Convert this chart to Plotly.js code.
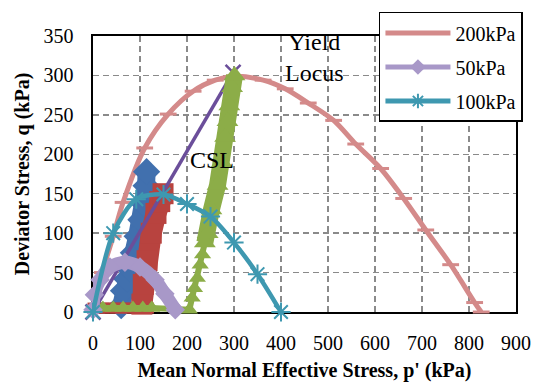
<!DOCTYPE html>
<html><head><meta charset="utf-8">
<script src="https://cdn.plot.ly/plotly-3.0.1.min.js"></script>
<style>html,body{margin:0;padding:0;background:#fff}</style>
</head><body>
<div id="chart" style="width:544px;height:383px"></div>
<script>
// ---- data (p' kPa, q kPa) ----
const p200 = [8, 20, 43, 64, 110, 160, 213, 260, 303, 362, 409, 458, 512, 559, 612, 661, 708, 761, 812, 826];
const q200 = [0, 50, 96, 139, 208, 251, 280, 294, 299, 294, 283, 265, 243, 213, 182, 144, 104, 60, 12, 0];

const p50 = [0, 3, 15, 36, 68, 100, 132, 153, 175];
const q50 = [3, 22, 41, 57, 63, 57, 41, 23, 3];

const p100 = [0, 43, 92, 150, 200, 250, 300, 350, 400];
const q100 = [0, 100, 143, 149, 137, 121, 88, 48, 0];

const pBlue = [60, 65, 72, 78, 86, 94, 102, 109, 113, 114];
const qBlue = [8, 27, 42, 55, 75, 96, 117, 137, 160, 178];

const pRedBase = [0, 12, 24, 36, 48, 60, 72, 84, 96, 108, 118];
const qRedBase = [5, 5, 5, 5, 5, 5, 5, 5, 5, 5, 5];
const pRedUp = [104, 107, 115, 124, 134, 142, 149];
const qRedUp = [10, 35, 65, 100, 125, 140, 150];

const pGreenBase = [0, 21, 43, 64, 85, 106, 125, 205, 211, 216, 222, 228, 233, 238];
const qGreenBase = [5, 5, 5, 5, 5, 5, 5, 3, 18, 30, 43, 60, 73, 88];
const pGreenBand = [238, 244, 252, 265, 274, 281, 286, 290, 296, 301];
const qGreenBand = [88, 100, 130, 161, 190, 222, 242, 262, 285, 300];

const pCSL = [0, 298];
const qCSL = [0, 304];

const xTicks = [0, 100, 200, 300, 400, 500, 600, 700, 800, 900];
const yTicks = [0, 50, 100, 150, 200, 250, 300, 350];

// ---- styling ----
const FONT = 'Liberation Serif';
const C = {
  pink: '#D48A8A', lav: '#A898C8', teal: '#3E98B0', blue: '#4170AE',
  red: '#B8433F', green: '#8CAD48', purple: '#6B4E9A'
};

const traces = [
  {x: p200, y: q200, name: '200kPa', legendgroup: 'a', mode: 'lines+markers',
   line: {color: C.pink, width: 5, shape: 'spline', smoothing: 0.8},
   marker: {symbol: 'line-ew', size: 12, color: C.pink, line: {color: C.pink, width: 3}},
   cliponaxis: false},
  {x: pBlue, y: qBlue, showlegend: false, mode: 'lines+markers',
   line: {color: C.blue, width: 18}, marker: {symbol: 'diamond', size: 21, color: C.blue},
   cliponaxis: false},
  {x: pRedBase, y: qRedBase, showlegend: false, mode: 'lines+markers',
   line: {color: C.red, width: 10}, marker: {symbol: 'square', size: 11, color: C.red},
   cliponaxis: false},
  {x: pRedUp, y: qRedUp, showlegend: false, mode: 'lines+markers',
   line: {color: C.red, width: 21}, marker: {symbol: 'square', size: 21, color: C.red},
   cliponaxis: false},
  {x: pCSL, y: qCSL, showlegend: false, mode: 'lines+markers',
   line: {color: C.purple, width: 3.5},
   marker: {symbol: 'x-thin-open', size: 15, color: C.purple, line: {color: C.purple, width: 2.5}},
   cliponaxis: false},
  {x: pGreenBase, y: qGreenBase, showlegend: false, mode: 'lines+markers',
   line: {color: C.green, width: 6}, marker: {symbol: 'triangle-up', size: 15, color: C.green},
   cliponaxis: false},
  {x: pGreenBand, y: qGreenBand, showlegend: false, mode: 'lines+markers',
   line: {color: C.green, width: 17}, marker: {symbol: 'triangle-up', size: 19, color: C.green},
   cliponaxis: false},
  {x: p50, y: q50, name: '50kPa', legendgroup: 'b', mode: 'lines+markers',
   line: {color: C.lav, width: 13, shape: 'spline', smoothing: 0.8},
   marker: {symbol: 'diamond', size: 15, color: C.lav},
   cliponaxis: false},
  {x: p100, y: q100, name: '100kPa', legendgroup: 'c', mode: 'lines+markers',
   line: {color: C.teal, width: 4.5, shape: 'spline', smoothing: 0.8},
   marker: {symbol: 'asterisk-open', size: 16, color: C.teal, line: {color: C.teal, width: 2}},
   cliponaxis: false}
];

const axisBase = {
  showgrid: true, gridcolor: '#8a8a8a', gridwidth: 1.4, griddash: '6px,4px',
  showline: true, linecolor: '#000', linewidth: 1.6, mirror: true,
  zeroline: false, ticks: '', layer: 'below traces', automargin: false,
  tickfont: {family: FONT, size: 20, color: '#000'}, fixedrange: true
};

const layout = {
  width: 544, height: 383,
  margin: {l: 93, r: 28, t: 25, b: 71, pad: 0},
  paper_bgcolor: '#fff', plot_bgcolor: '#fff',
  font: {family: FONT, color: '#000'},
  showlegend: true,
  xaxis: Object.assign({}, axisBase, {
    range: [0, 900], tickvals: xTicks, ticktext: xTicks.map(String),
    ticklabelstandoff: 12,
    title: {text: "<b>Mean Normal Effective Stress, p' (kPa)</b>", standoff: 10,
            font: {family: FONT, size: 20, color: '#000'}}
  }),
  yaxis: Object.assign({}, axisBase, {
    range: [0, 350], tickvals: yTicks, ticktext: yTicks.map(String),
    ticklabelstandoff: 14,
    title: {text: '<b>Deviator Stress, q (kPa)</b>', standoff: 8,
            font: {family: FONT, size: 20, color: '#000'}}
  }),
  legend: {
    x: 0.676, y: 1.087, xanchor: 'left', yanchor: 'top',
    bgcolor: '#fff', bordercolor: '#000', borderwidth: 1.5,
    font: {family: FONT, size: 20, color: '#000'},
    itemsizing: 'constant', itemwidth: 65, traceorder: 'grouped', tracegroupgap: 5
  },
  annotations: [
    {x: 253, y: 193, xref: 'x', yref: 'y', text: 'CSL', showarrow: false,
     font: {family: FONT, size: 24, color: '#000'}},
    {x: 472, y: 323, xref: 'x', yref: 'y', text: 'Yield<br>Locus', showarrow: false,
     font: {family: FONT, size: 24, color: '#000'}}
  ]
};

Plotly.newPlot('chart', traces, layout, {displayModeBar: false, staticPlot: true});
</script></body></html>
